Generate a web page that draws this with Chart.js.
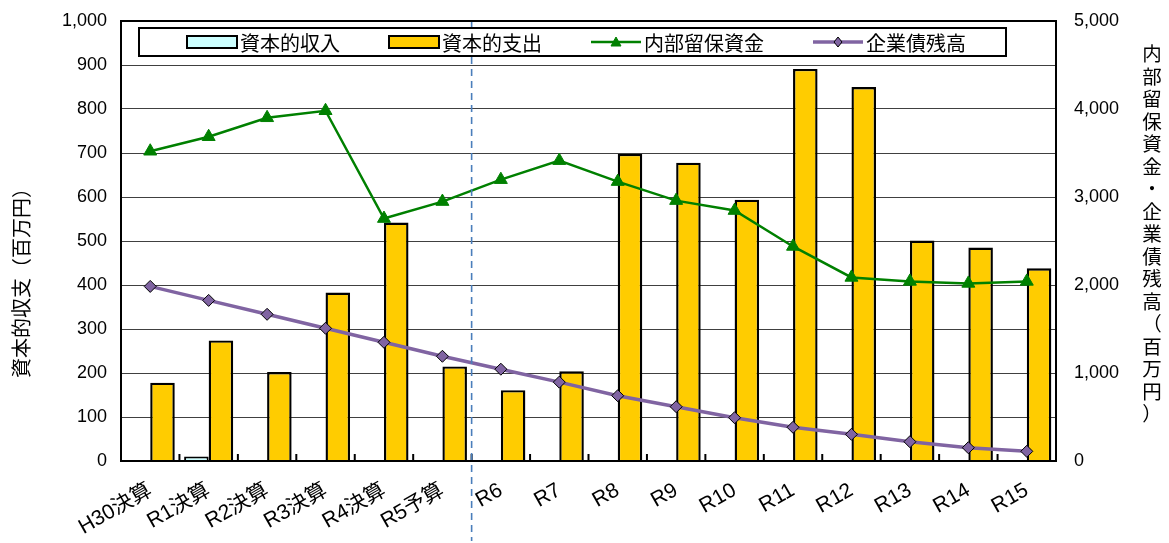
<!DOCTYPE html>
<html>
<head>
<meta charset="utf-8">
<script src="https://cdn.jsdelivr.net/npm/chart.js@4/dist/chart.umd.min.js"></script>
<style>
  html, body { margin: 0; padding: 0; background: #fff; }
  #wrap { width: 1169px; height: 543px; }
</style>
</head>
<body>
<div id="wrap"><canvas id="chart" width="1169" height="543"></canvas></div>
<script>
// categories and series
var categories = ['H30決算', 'R1決算', 'R2決算', 'R3決算', 'R4決算', 'R5予算', 'R6', 'R7', 'R8', 'R9', 'R10', 'R11', 'R12', 'R13', 'R14', 'R15'];
var capitalIncome = [0, 10, 0, 0, 0, 0, 0, 0, 0, 0, 0, 0, 0, 0, 0, 0];
var capitalExpenditure = [178, 274, 202, 383, 542, 215, 161, 204, 698, 678, 594, 891, 850, 501, 485, 438];
var internalReserve = [3520, 3685, 3900, 3980, 2755, 2948, 3197, 3413, 3175, 2959, 2846, 2438, 2086, 2041, 2018, 2041];
var bondBalance = [1984, 1825, 1667, 1508, 1349, 1190, 1043, 896, 742, 617, 492, 383, 303, 219, 151, 110];
var seriesNames = ['資本的収入', '資本的支出', '内部留保資金', '企業債残高'];
var leftTitle = '資本的収支（百万円）';
var rightTitle = '内部留保資金・企業債残高（百万円）';
var splitAfter = 'R5予算'; // dashed line between actual and forecast

var latin = '"Liberation Sans", Arial, "Noto Sans CJK JP", sans-serif';
var cjk = '"Noto Sans CJK JP", "Liberation Sans", sans-serif';

//draws the plot frame, inner x ticks and dashed split line
var framePlugin = {
    id: 'frame',
    beforeDatasetsDraw: function(chart) {
        var ctx = chart.ctx, a = chart.chartArea, x = chart.scales.x;
        ctx.save();
        // inner tick marks on category boundaries
        ctx.strokeStyle = '#000';
        ctx.lineWidth = 2;
        for (var i = 1; i < categories.length; i++) {
            var bx = (x.getPixelForValue(i - 1) + x.getPixelForValue(i)) / 2;
            ctx.beginPath();
            ctx.moveTo(bx, a.bottom);
            ctx.lineTo(bx, a.bottom - 7);
            ctx.stroke();
        }
        ctx.restore();
    },
    afterDatasetsDraw: function(chart) {
        var ctx = chart.ctx, a = chart.chartArea, x = chart.scales.x;
        var k = categories.indexOf(splitAfter);
        var sx = (x.getPixelForValue(k) + x.getPixelForValue(k + 1)) / 2;
        ctx.save();
        ctx.strokeStyle = '#4A7EBB';
        ctx.lineWidth = 1.6;
        ctx.setLineDash([7, 5]);
        ctx.beginPath();
        ctx.moveTo(sx, a.top);
        ctx.lineTo(sx, chart.height - 2);
        ctx.stroke();
        ctx.setLineDash([]);
        ctx.strokeStyle = '#000';
        ctx.lineWidth = 2;
        ctx.strokeRect(a.left, a.top, a.right - a.left, a.bottom - a.top);
        ctx.restore();
    }
};

//legend box drawn inside the plot, plus both axis titles
var legendPlugin = {
    id: 'innerLegend',
    afterDraw: function(chart) {
        var ctx = chart.ctx, a = chart.chartArea;
        var bx = a.left + 18, by = a.top + 7, bw = a.right - a.left - 68, bh = 28;
        ctx.save();
        ctx.fillStyle = '#fff';
        ctx.fillRect(bx, by, bw, bh);
        ctx.strokeStyle = '#000';
        ctx.lineWidth = 2;
        ctx.strokeRect(bx, by, bw, bh);
        var cy = by + bh / 2;
        var starts = [bx + 48, bx + 250, bx + 452, bx + 674];
        ctx.font = '20px ' + cjk;
        ctx.textBaseline = 'middle';
        chart.data.datasets.forEach(function(ds, i) {
            var sx = starts[i];
            if (ds.type === 'bar') {
                ctx.fillStyle = ds.backgroundColor;
                ctx.fillRect(sx, cy - 6, 50, 12);
                ctx.strokeStyle = '#000';
                ctx.lineWidth = 2;
                ctx.strokeRect(sx, cy - 6, 50, 12);
            } else {
                ctx.strokeStyle = ds.borderColor;
                ctx.lineWidth = ds.borderWidth;
                ctx.beginPath();
                ctx.moveTo(sx, cy);
                ctx.lineTo(sx + 50, cy);
                ctx.stroke();
                ctx.fillStyle = ds.pointBackgroundColor;
                ctx.strokeStyle = ds.pointBorderColor;
                ctx.lineWidth = 1;
                ctx.beginPath();
                if (ds.pointStyle === 'triangle') {
                    ctx.moveTo(sx + 25, cy - 5);
                    ctx.lineTo(sx + 30, cy + 4);
                    ctx.lineTo(sx + 20, cy + 4);
                } else {
                    ctx.moveTo(sx + 25, cy - 5);
                    ctx.lineTo(sx + 29, cy);
                    ctx.lineTo(sx + 25, cy + 5);
                    ctx.lineTo(sx + 21, cy);
                }
                ctx.closePath();
                ctx.fill();
                ctx.stroke();
            }
            ctx.fillStyle = '#000';
            ctx.textAlign = 'left';
            ctx.fillText(ds.label, sx + 53, cy + 1);
        });
        // left axis title, rotated
        ctx.textAlign = 'center';
        ctx.font = '20px ' + cjk;
        ctx.save();
        ctx.translate(21, 278);
        ctx.rotate(-Math.PI / 2);
        ctx.fillText(leftTitle, 0, 0);
        ctx.restore();
        // right axis title, upright characters stacked vertically
        ctx.font = '19.5px ' + cjk;
        Array.from(rightTitle).forEach(function(c, i) {
            ctx.fillText(c, 1152, 54 + i * 22.5);
        });
        ctx.restore();
    }
};

function noEdgePadding(s) {
    s.paddingTop = 0;
    s.paddingBottom = 0;
}

var ctx = document.getElementById('chart').getContext('2d');
var chart = new Chart(ctx, {
    data: {
        labels: categories,
        datasets: [{
            type: 'bar',
            label: seriesNames[0],
            data: capitalIncome,
            backgroundColor: '#CCFFFF',
            borderColor: '#000',
            borderWidth: 2,
            yAxisID: 'y',
            order: 2
        }, {
            type: 'bar',
            label: seriesNames[1],
            data: capitalExpenditure,
            backgroundColor: '#FFCC00',
            borderColor: '#000',
            borderWidth: 2.4,
            yAxisID: 'y',
            order: 3
        }, {
            type: 'line',
            label: seriesNames[2],
            data: internalReserve,
            borderColor: '#008000',
            borderWidth: 2.5,
            pointStyle: 'triangle',
            pointRadius: 7.5,
            pointBackgroundColor: '#008000',
            pointBorderColor: '#008000',
            pointBorderWidth: 1,
            tension: 0,
            yAxisID: 'y2',
            order: 1
        }, {
            type: 'line',
            label: seriesNames[3],
            data: bondBalance,
            borderColor: '#8064A2',
            borderWidth: 3.5,
            pointStyle: 'rectRot',
            pointRadius: 6,
            pointBackgroundColor: '#8064A2',
            pointBorderColor: '#000',
            pointBorderWidth: 1,
            tension: 0,
            yAxisID: 'y2',
            order: 0
        }]
    },
    options: {
        responsive: false,
        animation: false,
        layout: { padding: { top: 21, left: 0, right: 0, bottom: 0 } },
        datasets: {
            bar: { categoryPercentage: 0.84, barPercentage: 1.0 }
        },
        plugins: {
            legend: { display: false },
            tooltip: { enabled: false }
        },
        scales: {
            x: {
                offset: true,
                grid: { display: false },
                border: { color: '#000', width: 2 },
                ticks: {
                    color: '#000',
                    font: { family: latin, size: 21 },
                    maxRotation: 30,
                    minRotation: 30,
                    autoSkip: false,
                    padding: 9
                },
                afterFit: function(s) { s.height = 82; s.paddingLeft = 0; s.paddingRight = 0; }
            },
            y: {
                position: 'left',
                min: 0,
                max: 1000,
                grid: { color: '#404040', lineWidth: 1, drawTicks: false },
                border: { color: '#000', width: 2 },
                ticks: {
                    stepSize: 100,
                    color: '#000',
                    font: { family: latin, size: 18 },
                    padding: 14,
                    callback: function(v) { return v.toLocaleString('en-US'); }
                },
                afterFit: function(s) { s.width = 121; noEdgePadding(s); }
            },
            y2: {
                position: 'right',
                min: 0,
                max: 5000,
                grid: { drawOnChartArea: false, drawTicks: false },
                border: { color: '#000', width: 2 },
                ticks: {
                    stepSize: 1000,
                    color: '#000',
                    font: { family: latin, size: 18 },
                    padding: 18,
                    callback: function(v) { return v.toLocaleString('en-US'); }
                },
                afterFit: function(s) { s.width = 113; noEdgePadding(s); }
            }
        }
    },
    plugins: [framePlugin, legendPlugin]
});
</script>
</body>
</html>
